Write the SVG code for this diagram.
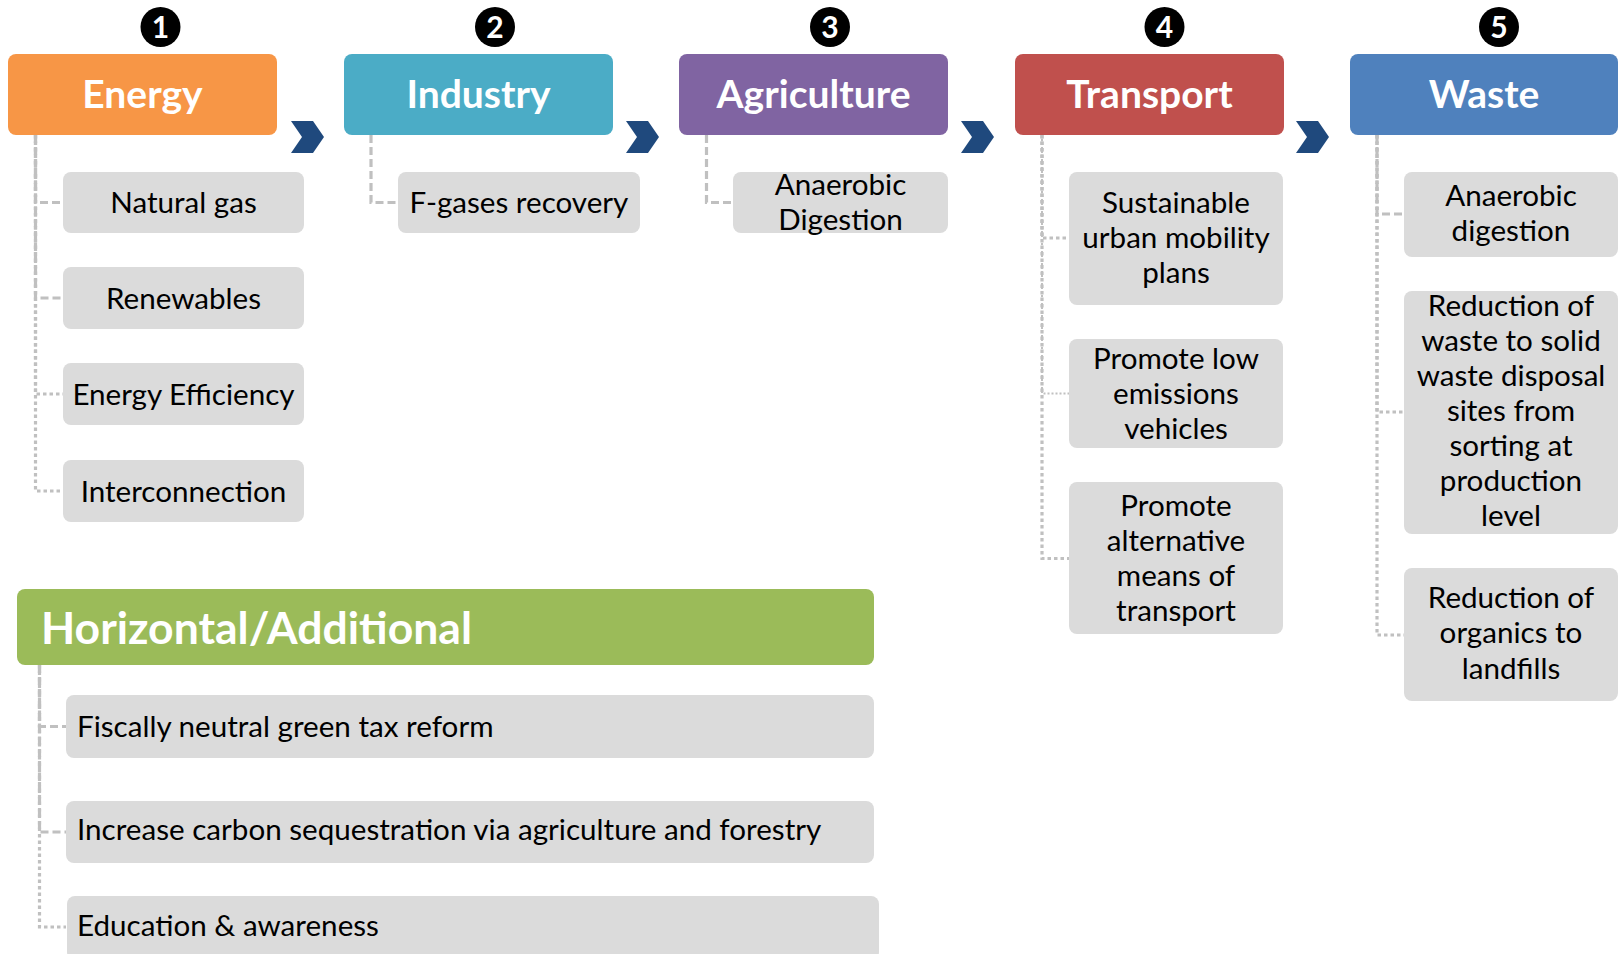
<svg xmlns="http://www.w3.org/2000/svg" width="1619" height="954" viewBox="0 0 1619 954">
<defs>
<style>
.num circle{fill:#000}
.num text{font-family:Lato,"Open Sans",sans-serif;font-weight:700;font-size:30px;fill:#fff;text-anchor:middle}
.hdr rect{rx:8px;ry:8px}
.hdr text{font-family:Lato,"Open Sans",sans-serif;font-weight:700;font-size:39px;fill:#fff;text-anchor:middle}
.item rect{fill:#DBDBDB;rx:8px;ry:8px}
.item text{font-family:Lato,"Open Sans",sans-serif;font-size:29.6px;fill:#000;text-anchor:middle}
.item text.l{text-anchor:start}
.conn path{fill:none;stroke:#C0C0C0;stroke-width:3.2}
.conn .dash{stroke-dasharray:8 4}
.conn .sq{stroke-dasharray:3.5 3}
.conn .rd{stroke-dasharray:2 2;stroke-width:2}
.chev path{fill:#1F497D}
</style>
</defs>
<rect width="1619" height="954" fill="#fff"/>

<g id="connectors" class="conn">
<path class="dash" d="M35.5,135 V202.5 H63"/>
<path class="dash" d="M35.5,135 V298 H63"/>
<path class="sq" d="M35.5,135 V394 H63"/>
<path class="sq" d="M35.5,135 V491 H63"/>
<path class="dash" d="M371,135 V202.5 H398"/>
<path class="dash" d="M706.5,135 V202.5 H733"/>
<path class="sq" d="M1042,135 V238 H1069"/>
<path class="rd" d="M1042,135 V393.5 H1069"/>
<path class="sq" d="M1042,135 V558.5 H1069"/>
<path class="dash" d="M1377,135 V214 H1404"/>
<path class="sq" d="M1377,135 V412 H1404"/>
<path class="sq" d="M1377,135 V635 H1404"/>
<path class="dash" d="M39.5,665 V726.5 H66"/>
<path class="dash" d="M39.5,665 V832 H66"/>
<path class="sq" d="M39.5,665 V927 H66"/>
</g>

<g id="chevrons" class="chev">
<path d="M291,121 H313 L324,137 L313,153 H291 L302,137 Z"/>
<path d="M626,121 H648 L659,137 L648,153 H626 L637,137 Z"/>
<path d="M961,121 H983 L994,137 L983,153 H961 L972,137 Z"/>
<path d="M1296,121 H1318 L1329,137 L1318,153 H1296 L1307,137 Z"/>
</g>

<g id="num1" class="num"><circle cx="160.5" cy="27" r="20"/><text x="160.5" y="38">1</text></g>
<g id="num2" class="num"><circle cx="495" cy="27" r="20"/><text x="495" y="38">2</text></g>
<g id="num3" class="num"><circle cx="830" cy="27" r="20"/><text x="830" y="38">3</text></g>
<g id="num4" class="num"><circle cx="1164.5" cy="27" r="20"/><text x="1164.5" y="38">4</text></g>
<g id="num5" class="num"><circle cx="1499" cy="27" r="20"/><text x="1499" y="38">5</text></g>

<g id="energy" class="hdr"><rect x="8" y="54" width="269" height="81" fill="#F79646"/><text x="142.5" y="108">Energy</text></g>
<g id="industry" class="hdr"><rect x="344" y="54" width="269" height="81" fill="#4BACC6"/><text x="478.5" y="108">Industry</text></g>
<g id="agriculture" class="hdr"><rect x="679" y="54" width="269" height="81" fill="#8064A2"/><text x="813.5" y="108">Agriculture</text></g>
<g id="transport" class="hdr"><rect x="1015" y="54" width="269" height="81" fill="#C0504D"/><text x="1149.5" y="108">Transport</text></g>
<g id="waste" class="hdr"><rect x="1350" y="54" width="268" height="81" fill="#4F81BD"/><text x="1484" y="108">Waste</text></g>

<g id="natural-gas" class="item"><rect x="63" y="172" width="241" height="61"/><text x="183.5" y="213">Natural gas</text></g>
<g id="renewables" class="item"><rect x="63" y="267" width="241" height="62"/><text x="183.5" y="308.5">Renewables</text></g>
<g id="energy-efficiency" class="item"><rect x="63" y="363" width="241" height="62"/><text x="183.5" y="404.5">Energy Efficiency</text></g>
<g id="interconnection" class="item"><rect x="63" y="460" width="241" height="62"/><text x="183.5" y="501.5">Interconnection</text></g>

<g id="f-gases" class="item"><rect x="398" y="172" width="242" height="61"/><text x="519" y="213">F-gases recovery</text></g>

<g id="anaerobic-agri" class="item"><rect x="733" y="172" width="215" height="61"/><text x="840.5" y="195">Anaerobic</text><text x="840.5" y="230">Digestion</text></g>

<g id="sump" class="item"><rect x="1069" y="172" width="214" height="133"/><text x="1176" y="213">Sustainable</text><text x="1176" y="248">urban mobility</text><text x="1176" y="283">plans</text></g>
<g id="low-emissions" class="item"><rect x="1069" y="339" width="214" height="109"/><text x="1176" y="368.5">Promote low</text><text x="1176" y="403.5">emissions</text><text x="1176" y="438.5">vehicles</text></g>
<g id="alt-transport" class="item"><rect x="1069" y="482" width="214" height="152"/><text x="1176" y="516">Promote</text><text x="1176" y="551">alternative</text><text x="1176" y="586">means of</text><text x="1176" y="621">transport</text></g>

<g id="anaerobic-waste" class="item"><rect x="1404" y="172" width="214" height="85"/><text x="1511" y="205.5">Anaerobic</text><text x="1511" y="240.5">digestion</text></g>
<g id="reduction-waste" class="item"><rect x="1404" y="291" width="214" height="243"/><text x="1511" y="316">Reduction of</text><text x="1511" y="351">waste to solid</text><text x="1511" y="386">waste disposal</text><text x="1511" y="421">sites from</text><text x="1511" y="456">sorting at</text><text x="1511" y="491">production</text><text x="1511" y="526">level</text></g>
<g id="reduction-organics" class="item"><rect x="1404" y="568" width="214" height="133"/><text x="1511" y="607.5">Reduction of</text><text x="1511" y="643">organics to</text><text x="1511" y="678.5">landfills</text></g>

<g id="horizontal" class="hdr"><rect x="17" y="589" width="857" height="76" rx="10" ry="10" fill="#9BBB59"/><text x="41" y="644" style="text-anchor:start;font-size:44.5px">Horizontal/Additional</text></g>
<g id="green-tax" class="item"><rect x="66" y="695" width="808" height="63"/><text class="l" x="77" y="737">Fiscally neutral green tax reform</text></g>
<g id="carbon-seq" class="item"><rect x="66" y="801" width="808" height="62"/><text class="l" x="77" y="840">Increase carbon sequestration via agriculture and forestry</text></g>
<g id="education" class="item"><rect x="67" y="896" width="812" height="64"/><text class="l" x="77" y="936">Education &amp; awareness</text></g>
</svg>
